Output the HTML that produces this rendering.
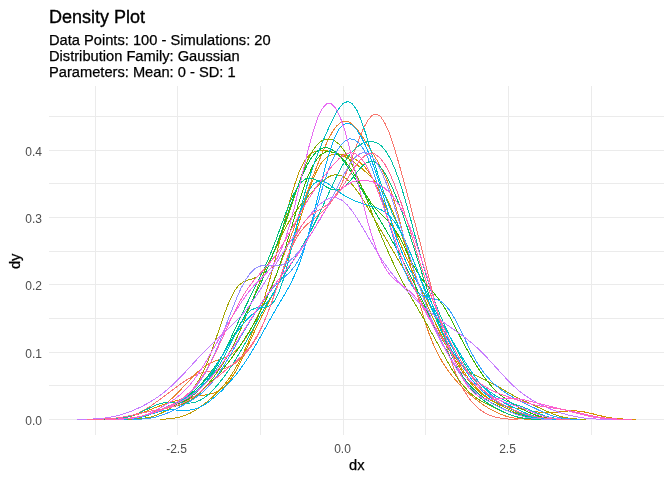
<!DOCTYPE html>
<html><head><meta charset="utf-8"><title>Density Plot</title>
<style>
html,body{margin:0;padding:0;background:#fff;}
body{width:672px;height:480px;overflow:hidden;position:relative;font-family:"Liberation Sans",Arial,sans-serif;}
svg{position:absolute;left:0;top:0;}
.t{position:absolute;white-space:nowrap;line-height:1;}
.title{left:49px;top:8px;font-size:18px;color:#000;-webkit-text-stroke:0.35px #000;}
.sub{left:49px;font-size:14.67px;color:#000;-webkit-text-stroke:0.25px #000;}
.ax{font-size:12px;color:#4d4d4d;}
.yl{text-align:right;width:42px;left:0;}
.xl{text-align:center;width:60px;}
.axt{font-size:14.67px;color:#000;-webkit-text-stroke:0.25px #000;}
</style></head><body>
<svg width="672" height="480" viewBox="0 0 672 480">
<g id="grid" fill="#ebebeb" shape-rendering="crispEdges">
<rect x="49" y="419" width="615" height="1"/>
<rect x="49" y="385" width="615" height="1"/>
<rect x="49" y="352" width="615" height="1"/>
<rect x="49" y="318" width="615" height="1"/>
<rect x="49" y="284" width="615" height="1"/>
<rect x="49" y="251" width="615" height="1"/>
<rect x="49" y="217" width="615" height="1"/>
<rect x="49" y="183" width="615" height="1"/>
<rect x="49" y="150" width="615" height="1"/>
<rect x="49" y="116" width="615" height="1"/>
<rect x="95" y="86" width="1" height="349"/>
<rect x="177" y="86" width="1" height="349"/>
<rect x="260" y="86" width="1" height="349"/>
<rect x="343" y="86" width="1" height="349"/>
<rect x="425" y="86" width="1" height="349"/>
<rect x="508" y="86" width="1" height="349"/>
<rect x="591" y="86" width="1" height="349"/>

</g>
<g id="curves" fill="none" stroke-width="1" shape-rendering="crispEdges">
<path stroke="#F8766D" d="M105.1,419.4 L109.3,419.3 L113.4,419.1 L117.6,418.8 L121.8,418.2 L126.0,417.5 L130.1,416.4 L134.3,415.0 L138.5,413.1 L142.6,411.0 L146.8,408.5 L151.0,405.8 L155.1,402.9 L159.3,399.9 L163.5,396.8 L167.7,393.7 L171.8,390.6 L176.0,387.4 L180.2,384.3 L184.3,381.4 L188.5,378.7 L192.7,376.3 L196.9,374.4 L201.0,373.0 L205.2,371.9 L209.4,371.2 L213.5,370.7 L217.7,370.1 L221.9,369.2 L226.0,368.0 L230.2,366.3 L234.4,363.9 L238.6,360.8 L242.7,356.9 L246.9,352.2 L251.1,346.5 L255.2,339.9 L259.4,332.1 L263.6,323.1 L267.8,312.9 L271.9,301.6 L276.1,289.6 L280.3,277.3 L284.4,265.4 L288.6,254.5 L292.8,245.0 L297.0,237.1 L301.1,230.9 L305.3,226.1 L309.5,222.3 L313.6,219.0 L317.8,215.8 L322.0,212.2 L326.1,208.1 L330.3,203.1 L334.5,197.1 L338.7,189.7 L342.8,181.1 L347.0,171.1 L351.2,160.2 L355.3,148.8 L359.5,137.7 L363.7,127.9 L367.9,120.2 L372.0,115.4 L376.2,114.1 L380.4,116.4 L384.5,122.4 L388.7,131.5 L392.9,143.3 L397.0,156.9 L401.2,171.6 L405.4,187.0 L409.6,202.6 L413.7,218.4 L417.9,234.2 L422.1,250.4 L426.2,266.9 L430.4,283.7 L434.6,300.6 L438.8,317.3 L442.9,333.2 L447.1,347.9 L451.3,361.1 L455.4,372.5 L459.6,382.1 L463.8,390.2 L468.0,396.7 L472.1,402.1 L476.3,406.5 L480.5,410.0 L484.6,412.7 L488.8,414.8 L493.0,416.4 L497.1,417.5 L501.3,418.3 L505.5,418.8 L509.7,419.1 L513.8,419.3 L518.0,419.4"/>
<path stroke="#EA8331" d="M117.0,419.4 L121.2,419.3 L125.4,419.1 L129.6,418.8 L133.9,418.3 L138.1,417.6 L142.3,416.6 L146.5,415.3 L150.8,413.5 L155.0,411.3 L159.2,408.7 L163.4,405.6 L167.6,402.2 L171.9,398.5 L176.1,394.4 L180.3,390.1 L184.5,385.6 L188.8,381.0 L193.0,376.6 L197.2,372.4 L201.4,368.7 L205.6,365.6 L209.9,363.2 L214.1,361.4 L218.3,359.9 L222.5,358.6 L226.8,356.9 L231.0,354.5 L235.2,351.2 L239.4,346.7 L243.6,341.2 L247.9,334.6 L252.1,327.1 L256.3,319.0 L260.5,310.4 L264.8,301.3 L269.0,291.9 L273.2,282.0 L277.4,271.7 L281.6,261.0 L285.9,250.0 L290.1,238.6 L294.3,227.1 L298.5,215.6 L302.8,204.0 L307.0,192.5 L311.2,181.2 L315.4,170.0 L319.7,159.3 L323.9,149.1 L328.1,139.9 L332.3,132.0 L336.5,126.1 L340.8,122.3 L345.0,120.9 L349.2,122.0 L353.4,125.2 L357.7,130.0 L361.9,135.9 L366.1,142.4 L370.3,149.2 L374.5,156.1 L378.8,163.4 L383.0,171.5 L387.2,181.0 L391.4,192.4 L395.7,205.8 L399.9,221.2 L404.1,238.3 L408.3,256.2 L412.5,274.3 L416.8,291.8 L421.0,307.9 L425.2,322.2 L429.4,334.6 L433.7,345.1 L437.9,354.0 L442.1,361.6 L446.3,368.1 L450.5,373.9 L454.8,379.1 L459.0,383.9 L463.2,388.2 L467.4,392.2 L471.7,395.9 L475.9,399.4 L480.1,402.5 L484.3,405.5 L488.6,408.2 L492.8,410.6 L497.0,412.7 L501.2,414.5 L505.4,416.0 L509.7,417.1 L513.9,418.0 L518.1,418.6 L522.3,418.9 L526.6,419.2 L530.8,419.3 L535.0,419.4"/>
<path stroke="#D89000" d="M99.7,419.4 L105.1,419.3 L110.6,419.1 L116.0,418.7 L121.4,418.1 L126.8,417.2 L132.2,415.9 L137.6,414.3 L143.1,412.4 L148.5,410.3 L153.9,408.2 L159.3,406.1 L164.7,404.2 L170.2,402.5 L175.6,400.9 L181.0,399.4 L186.4,398.1 L191.8,397.0 L197.2,396.1 L202.7,395.3 L208.1,394.5 L213.5,393.1 L218.9,390.7 L224.3,386.7 L229.7,380.6 L235.2,372.2 L240.6,361.9 L246.0,350.3 L251.4,338.2 L256.8,326.3 L262.2,315.2 L267.7,304.7 L273.1,294.2 L278.5,282.8 L283.9,269.7 L289.3,254.5 L294.7,237.2 L300.2,218.8 L305.6,200.8 L311.0,184.6 L316.4,171.5 L321.8,162.3 L327.2,156.8 L332.7,154.4 L338.1,154.1 L343.5,154.9 L348.9,156.4 L354.3,158.7 L359.7,162.1 L365.2,167.4 L370.6,174.9 L376.0,184.7 L381.4,196.6 L386.8,209.8 L392.2,223.5 L397.7,237.2 L403.1,250.1 L408.5,262.3 L413.9,273.7 L419.3,284.6 L424.7,295.4 L430.2,306.2 L435.6,317.2 L441.0,328.5 L446.4,339.7 L451.8,350.6 L457.2,360.7 L462.7,369.8 L468.1,377.8 L473.5,384.7 L478.9,390.4 L484.3,395.2 L489.7,399.1 L495.2,402.2 L500.6,404.5 L506.0,406.1 L511.4,407.3 L516.8,408.3 L522.2,409.2 L527.7,410.2 L533.1,411.2 L538.5,412.1 L543.9,412.6 L549.3,412.8 L554.7,412.4 L560.2,411.8 L565.6,411.2 L571.0,410.8 L576.4,410.9 L581.8,411.5 L587.2,412.5 L592.7,413.8 L598.1,415.2 L603.5,416.5 L608.9,417.5 L614.3,418.3 L619.7,418.8 L625.2,419.1 L630.6,419.3 L636.0,419.4"/>
<path stroke="#C09B00" d="M160.0,419.3 L164.0,419.2 L167.9,418.9 L171.9,418.5 L175.8,417.9 L179.8,417.1 L183.8,415.9 L187.7,414.3 L191.7,412.4 L195.6,410.1 L199.6,407.5 L203.6,404.6 L207.5,401.4 L211.5,398.0 L215.4,394.3 L219.4,390.3 L223.4,385.8 L227.3,380.8 L231.3,375.2 L235.2,368.7 L239.2,361.6 L243.2,353.6 L247.1,344.9 L251.1,335.5 L255.1,325.3 L259.0,314.3 L263.0,302.3 L266.9,289.4 L270.9,275.4 L274.9,260.3 L278.8,244.5 L282.8,228.4 L286.7,212.6 L290.7,197.7 L294.7,184.4 L298.6,173.2 L302.6,164.4 L306.5,158.1 L310.5,153.9 L314.5,151.6 L318.4,150.6 L322.4,150.4 L326.3,150.8 L330.3,151.5 L334.3,152.5 L338.2,153.7 L342.2,155.3 L346.1,157.3 L350.1,159.7 L354.1,162.5 L358.0,165.5 L362.0,168.7 L365.9,172.1 L369.9,175.8 L373.9,179.9 L377.8,184.7 L381.8,190.3 L385.7,197.0 L389.7,204.9 L393.7,213.9 L397.6,224.0 L401.6,234.8 L405.6,246.2 L409.5,257.7 L413.5,269.1 L417.4,280.2 L421.4,290.7 L425.4,300.7 L429.3,310.0 L433.3,318.7 L437.2,327.0 L441.2,334.8 L445.2,342.4 L449.1,349.6 L453.1,356.6 L457.0,363.3 L461.0,369.6 L465.0,375.4 L468.9,380.8 L472.9,385.6 L476.8,389.7 L480.8,393.4 L484.8,396.4 L488.7,399.1 L492.7,401.4 L496.6,403.5 L500.6,405.5 L504.6,407.4 L508.5,409.4 L512.5,411.2 L516.4,413.0 L520.4,414.6 L524.4,415.9 L528.3,417.0 L532.3,417.8 L536.2,418.4 L540.2,418.9 L544.2,419.1 L548.1,419.3 L552.1,419.4"/>
<path stroke="#A3A500" d="M127.5,419.4 L132.2,419.3 L136.8,419.0 L141.4,418.6 L146.1,417.9 L150.7,417.0 L155.3,415.6 L160.0,413.7 L164.6,411.5 L169.2,408.9 L173.9,406.0 L178.5,402.7 L183.1,399.1 L187.7,394.9 L192.4,389.7 L197.0,383.2 L201.6,375.1 L206.3,365.1 L210.9,353.3 L215.5,340.0 L220.2,326.2 L224.8,312.8 L229.4,301.0 L234.0,291.7 L238.7,285.4 L243.3,281.8 L247.9,280.1 L252.6,278.8 L257.2,276.8 L261.8,272.8 L266.5,266.5 L271.1,258.1 L275.7,248.4 L280.4,238.4 L285.0,228.9 L289.6,220.5 L294.2,213.4 L298.9,207.2 L303.5,201.6 L308.1,196.3 L312.8,191.1 L317.4,186.1 L322.0,181.6 L326.7,178.0 L331.3,175.6 L335.9,174.7 L340.6,175.4 L345.2,177.9 L349.8,181.8 L354.4,187.2 L359.1,193.6 L363.7,200.8 L368.3,208.6 L373.0,216.6 L377.6,224.6 L382.2,232.5 L386.9,240.4 L391.5,248.3 L396.1,256.1 L400.8,264.1 L405.4,272.2 L410.0,280.5 L414.6,289.1 L419.3,297.7 L423.9,306.4 L428.5,315.0 L433.2,323.5 L437.8,331.7 L442.4,339.5 L447.1,346.8 L451.7,353.5 L456.3,359.4 L461.0,364.4 L465.6,368.7 L470.2,372.1 L474.8,375.0 L479.5,377.4 L484.1,379.6 L488.7,381.7 L493.4,384.0 L498.0,386.6 L502.6,389.3 L507.3,392.0 L511.9,394.7 L516.5,397.2 L521.2,399.5 L525.8,401.7 L530.4,403.7 L535.0,405.8 L539.7,408.0 L544.3,410.1 L548.9,412.2 L553.6,414.1 L558.2,415.8 L562.8,417.1 L567.5,418.0 L572.1,418.6 L576.7,419.0 L581.3,419.3 L586.0,419.4"/>
<path stroke="#7CAE00" d="M114.5,419.4 L118.8,419.3 L123.1,419.1 L127.5,418.8 L131.8,418.3 L136.1,417.6 L140.4,416.6 L144.7,415.4 L149.0,414.0 L153.3,412.5 L157.7,410.9 L162.0,409.5 L166.3,408.3 L170.6,407.3 L174.9,406.3 L179.2,405.2 L183.6,403.7 L187.9,401.8 L192.2,399.2 L196.5,395.9 L200.8,392.0 L205.1,387.5 L209.4,382.4 L213.8,377.0 L218.1,371.0 L222.4,364.6 L226.7,357.5 L231.0,349.8 L235.3,341.1 L239.7,331.6 L244.0,321.4 L248.3,310.6 L252.6,299.7 L256.9,289.0 L261.2,278.8 L265.5,269.3 L269.9,260.2 L274.2,251.1 L278.5,241.4 L282.8,230.7 L287.1,218.9 L291.4,206.0 L295.8,192.7 L300.1,179.8 L304.4,168.0 L308.7,158.0 L313.0,150.1 L317.3,144.4 L321.6,140.8 L326.0,139.1 L330.3,139.0 L334.6,140.7 L338.9,144.0 L343.2,149.1 L347.5,155.9 L351.9,164.2 L356.2,173.7 L360.5,184.0 L364.8,194.8 L369.1,205.7 L373.4,216.7 L377.7,227.4 L382.1,237.9 L386.4,248.0 L390.7,257.6 L395.0,266.9 L399.3,275.6 L403.6,283.8 L408.0,291.7 L412.3,299.2 L416.6,306.5 L420.9,313.9 L425.2,321.3 L429.5,328.9 L433.8,336.7 L438.2,344.6 L442.5,352.6 L446.8,360.4 L451.1,367.9 L455.4,374.9 L459.7,381.1 L464.1,386.6 L468.4,391.3 L472.7,395.2 L477.0,398.4 L481.3,401.1 L485.6,403.5 L489.9,405.6 L494.3,407.7 L498.6,409.8 L502.9,411.8 L507.2,413.6 L511.5,415.2 L515.8,416.5 L520.2,417.5 L524.5,418.3 L528.8,418.8 L533.1,419.1 L537.4,419.3 L541.7,419.4"/>
<path stroke="#39B600" d="M118.1,419.4 L122.6,419.3 L127.1,419.1 L131.6,418.7 L136.2,418.1 L140.7,417.2 L145.2,416.1 L149.7,414.6 L154.2,412.9 L158.7,411.0 L163.3,409.2 L167.8,407.4 L172.3,405.8 L176.8,404.2 L181.3,402.6 L185.8,400.8 L190.4,398.6 L194.9,395.9 L199.4,392.7 L203.9,389.0 L208.4,384.8 L212.9,380.3 L217.5,375.4 L222.0,370.2 L226.5,364.7 L231.0,358.8 L235.5,352.6 L240.0,346.0 L244.5,339.0 L249.1,331.7 L253.6,324.0 L258.1,315.8 L262.6,306.9 L267.1,297.3 L271.6,286.8 L276.2,275.1 L280.7,262.3 L285.2,248.3 L289.7,233.5 L294.2,218.2 L298.7,203.1 L303.3,189.0 L307.8,176.7 L312.3,166.5 L316.8,159.1 L321.3,154.3 L325.8,151.9 L330.4,151.7 L334.9,153.1 L339.4,155.9 L343.9,160.1 L348.4,165.5 L352.9,172.1 L357.5,179.7 L362.0,187.8 L366.5,195.6 L371.0,202.7 L375.5,208.5 L380.0,213.2 L384.5,217.4 L389.1,221.9 L393.6,227.6 L398.1,234.7 L402.6,243.3 L407.1,252.7 L411.6,262.1 L416.2,270.5 L420.7,277.5 L425.2,283.4 L429.7,288.4 L434.2,293.4 L438.7,299.1 L443.3,305.7 L447.8,313.3 L452.3,321.6 L456.8,330.3 L461.3,339.0 L465.8,347.5 L470.4,355.5 L474.9,363.1 L479.4,370.1 L483.9,376.7 L488.4,382.6 L492.9,387.8 L497.5,392.3 L502.0,396.2 L506.5,399.5 L511.0,402.5 L515.5,405.2 L520.0,407.8 L524.5,410.2 L529.1,412.4 L533.6,414.3 L538.1,415.9 L542.6,417.2 L547.1,418.1 L551.6,418.7 L556.2,419.0 L560.7,419.3 L565.2,419.4"/>
<path stroke="#00BB4E" d="M104.4,419.4 L109.1,419.3 L113.7,419.2 L118.3,419.0 L122.9,418.8 L127.5,418.3 L132.1,417.8 L136.7,417.0 L141.3,416.1 L145.9,414.9 L150.5,413.5 L155.1,412.0 L159.7,410.3 L164.4,408.4 L169.0,406.4 L173.6,404.2 L178.2,401.9 L182.8,399.2 L187.4,396.1 L192.0,392.6 L196.6,388.5 L201.2,383.9 L205.8,378.6 L210.4,372.8 L215.1,366.3 L219.7,359.4 L224.3,352.0 L228.9,344.2 L233.5,336.2 L238.1,327.9 L242.7,319.4 L247.3,310.7 L251.9,301.7 L256.5,292.3 L261.1,282.5 L265.8,272.0 L270.4,260.9 L275.0,249.1 L279.6,236.7 L284.2,223.8 L288.8,210.7 L293.4,197.9 L298.0,185.7 L302.6,174.6 L307.2,165.0 L311.8,157.3 L316.4,151.8 L321.1,148.5 L325.7,147.4 L330.3,148.5 L334.9,151.5 L339.5,156.1 L344.1,161.8 L348.7,168.5 L353.3,175.8 L357.9,183.4 L362.5,191.1 L367.1,198.8 L371.8,206.4 L376.4,214.1 L381.0,221.7 L385.6,229.5 L390.2,237.4 L394.8,245.6 L399.4,254.1 L404.0,262.9 L408.6,272.0 L413.2,281.5 L417.8,291.2 L422.5,301.0 L427.1,310.9 L431.7,320.7 L436.3,330.4 L440.9,339.7 L445.5,348.6 L450.1,357.0 L454.7,364.8 L459.3,371.9 L463.9,378.2 L468.5,383.8 L473.1,388.8 L477.8,393.0 L482.4,396.7 L487.0,400.0 L491.6,402.8 L496.2,405.4 L500.8,407.7 L505.4,409.7 L510.0,411.6 L514.6,413.3 L519.2,414.7 L523.8,416.0 L528.5,417.0 L533.1,417.7 L537.7,418.3 L542.3,418.7 L546.9,419.0 L551.5,419.2 L556.1,419.3 L560.7,419.4"/>
<path stroke="#00BF7D" d="M118.3,419.4 L122.6,419.3 L126.9,419.1 L131.1,418.7 L135.4,418.2 L139.6,417.5 L143.9,416.4 L148.2,415.1 L152.4,413.5 L156.7,411.7 L161.0,409.9 L165.2,408.1 L169.5,406.3 L173.7,404.7 L178.0,403.0 L182.3,401.2 L186.5,399.2 L190.8,396.6 L195.1,393.5 L199.3,389.6 L203.6,385.0 L207.9,379.7 L212.1,373.5 L216.4,366.6 L220.6,358.9 L224.9,350.6 L229.2,341.7 L233.4,332.5 L237.7,323.2 L242.0,314.0 L246.2,305.1 L250.5,296.4 L254.7,287.9 L259.0,279.4 L263.3,270.5 L267.5,261.0 L271.8,250.7 L276.1,239.6 L280.3,228.0 L284.6,216.3 L288.8,205.1 L293.1,195.3 L297.4,187.4 L301.6,181.9 L305.9,178.8 L310.2,178.0 L314.4,179.2 L318.7,181.5 L322.9,184.5 L327.2,187.4 L331.5,189.4 L335.7,190.2 L340.0,189.4 L344.3,186.9 L348.5,182.8 L352.8,177.7 L357.0,172.1 L361.3,167.1 L365.6,163.3 L369.8,161.4 L374.1,161.8 L378.4,164.6 L382.6,169.7 L386.9,176.6 L391.2,185.2 L395.4,194.9 L399.7,205.8 L403.9,217.5 L408.2,230.0 L412.5,243.2 L416.7,256.7 L421.0,270.3 L425.3,283.8 L429.5,296.8 L433.8,309.3 L438.0,321.1 L442.3,332.4 L446.6,343.0 L450.8,353.0 L455.1,362.2 L459.4,370.6 L463.6,378.1 L467.9,384.5 L472.1,389.9 L476.4,394.4 L480.7,398.1 L484.9,401.3 L489.2,404.1 L493.5,406.6 L497.7,409.0 L502.0,411.2 L506.2,413.2 L510.5,414.9 L514.8,416.3 L519.0,417.4 L523.3,418.2 L527.6,418.7 L531.8,419.1 L536.1,419.3 L540.4,419.4"/>
<path stroke="#00C1A3" d="M104.8,419.4 L109.3,419.3 L113.8,419.0 L118.4,418.7 L122.9,418.0 L127.5,417.1 L132.0,415.8 L136.6,414.1 L141.1,412.1 L145.6,409.9 L150.2,407.7 L154.7,405.6 L159.3,403.9 L163.8,402.7 L168.4,402.0 L172.9,402.0 L177.4,402.3 L182.0,402.8 L186.5,403.1 L191.1,403.0 L195.6,402.1 L200.2,400.2 L204.7,397.4 L209.3,393.7 L213.8,389.2 L218.3,384.0 L222.9,378.3 L227.4,372.1 L232.0,365.4 L236.5,358.2 L241.1,350.5 L245.6,342.5 L250.1,334.3 L254.7,325.9 L259.2,317.5 L263.8,309.3 L268.3,301.3 L272.9,293.5 L277.4,286.0 L281.9,278.6 L286.5,271.4 L291.0,264.3 L295.6,257.1 L300.1,249.7 L304.7,242.0 L309.2,233.9 L313.7,225.2 L318.3,215.9 L322.8,206.1 L327.4,196.1 L331.9,186.1 L336.5,176.6 L341.0,167.9 L345.6,160.3 L350.1,154.1 L354.6,149.1 L359.2,145.4 L363.7,142.8 L368.3,141.5 L372.8,141.5 L377.4,143.0 L381.9,146.4 L386.4,152.0 L391.0,160.0 L395.5,170.4 L400.1,183.1 L404.6,197.7 L409.2,213.7 L413.7,230.5 L418.2,247.4 L422.8,263.8 L427.3,279.2 L431.9,293.2 L436.4,305.8 L441.0,317.1 L445.5,327.3 L450.0,336.7 L454.6,345.6 L459.1,354.2 L463.7,362.3 L468.2,369.9 L472.8,376.9 L477.3,383.2 L481.8,388.6 L486.4,393.1 L490.9,396.9 L495.5,400.1 L500.0,402.9 L504.6,405.5 L509.1,407.9 L513.7,410.3 L518.2,412.5 L522.7,414.4 L527.3,416.0 L531.8,417.2 L536.4,418.1 L540.9,418.7 L545.5,419.0 L550.0,419.3 L554.5,419.4"/>
<path stroke="#00BFC4" d="M118.3,419.4 L122.9,419.3 L127.5,419.0 L132.1,418.6 L136.7,418.0 L141.3,417.0 L145.9,415.7 L150.4,414.1 L155.0,412.2 L159.6,410.1 L164.2,408.0 L168.8,405.9 L173.4,403.8 L178.0,401.8 L182.5,399.6 L187.1,397.2 L191.7,394.3 L196.3,391.0 L200.9,387.1 L205.5,382.7 L210.0,377.6 L214.6,371.8 L219.2,365.0 L223.8,357.3 L228.4,348.5 L233.0,339.2 L237.6,329.8 L242.1,321.3 L246.7,314.5 L251.3,310.0 L255.9,307.9 L260.5,307.5 L265.1,307.4 L269.6,305.9 L274.2,301.3 L278.8,292.6 L283.4,279.4 L288.0,262.6 L292.6,243.5 L297.2,223.7 L301.7,204.8 L306.3,187.8 L310.9,172.8 L315.5,159.7 L320.1,147.9 L324.7,137.0 L329.2,126.7 L333.8,117.2 L338.4,109.2 L343.0,103.6 L347.6,101.5 L352.2,103.6 L356.8,110.1 L361.3,120.6 L365.9,134.2 L370.5,149.6 L375.1,165.3 L379.7,180.3 L384.3,193.7 L388.8,205.4 L393.4,215.8 L398.0,225.4 L402.6,235.1 L407.2,245.3 L411.8,256.2 L416.4,267.9 L420.9,280.2 L425.5,292.6 L430.1,304.7 L434.7,316.2 L439.3,326.9 L443.9,336.5 L448.4,345.1 L453.0,352.6 L457.6,359.3 L462.2,365.2 L466.8,370.5 L471.4,375.3 L476.0,379.8 L480.5,384.1 L485.1,388.0 L489.7,391.6 L494.3,394.8 L498.9,397.6 L503.5,399.9 L508.0,401.7 L512.6,403.4 L517.2,405.0 L521.8,406.6 L526.4,408.5 L531.0,410.4 L535.6,412.4 L540.1,414.2 L544.7,415.8 L549.3,417.1 L553.9,418.0 L558.5,418.6 L563.1,419.0 L567.7,419.3 L572.2,419.4"/>
<path stroke="#00BAE0" d="M115.9,419.4 L120.4,419.3 L124.9,419.1 L129.4,418.7 L133.9,418.2 L138.4,417.4 L142.9,416.2 L147.4,414.8 L151.9,413.2 L156.4,411.3 L160.9,409.5 L165.4,407.6 L169.9,405.8 L174.4,404.1 L178.9,402.2 L183.4,400.0 L187.9,397.3 L192.4,394.0 L196.9,390.1 L201.4,385.4 L205.9,380.0 L210.4,374.0 L214.9,367.4 L219.4,360.3 L223.9,353.0 L228.4,345.6 L232.9,338.4 L237.4,331.6 L241.9,325.4 L246.4,320.1 L250.9,315.6 L255.4,311.8 L259.9,308.4 L264.4,304.8 L268.9,300.3 L273.4,294.0 L277.9,285.4 L282.4,274.1 L286.9,260.3 L291.4,244.8 L295.9,228.6 L300.4,213.2 L304.9,200.0 L309.4,190.0 L313.9,183.6 L318.4,180.8 L322.9,181.0 L327.4,183.2 L331.9,186.4 L336.4,190.0 L340.9,193.3 L345.4,196.2 L349.9,198.6 L354.4,200.7 L358.9,202.4 L363.4,204.0 L367.9,205.3 L372.4,206.6 L376.9,208.0 L381.4,209.9 L385.9,212.7 L390.5,216.8 L395.0,222.4 L399.5,229.8 L404.0,238.7 L408.5,248.8 L413.0,259.7 L417.5,270.8 L422.0,281.8 L426.5,292.2 L431.0,301.9 L435.5,310.9 L440.0,319.3 L444.5,327.3 L449.0,335.0 L453.5,342.7 L458.0,350.2 L462.5,357.7 L467.0,364.9 L471.5,371.8 L476.0,378.2 L480.5,383.9 L485.0,388.9 L489.5,393.1 L494.0,396.7 L498.5,399.6 L503.0,402.2 L507.5,404.5 L512.0,406.7 L516.5,408.9 L521.0,411.0 L525.5,413.0 L530.0,414.7 L534.5,416.2 L539.0,417.3 L543.5,418.2 L548.0,418.7 L552.5,419.1 L557.0,419.3 L561.5,419.4"/>
<path stroke="#00B0F6" d="M115.5,419.4 L120.0,419.3 L124.5,419.1 L128.9,418.8 L133.4,418.3 L137.9,417.5 L142.3,416.6 L146.8,415.3 L151.3,414.0 L155.8,412.6 L160.2,411.4 L164.7,410.5 L169.2,410.0 L173.6,409.9 L178.1,410.1 L182.6,410.3 L187.0,410.3 L191.5,409.8 L196.0,408.7 L200.4,406.9 L204.9,404.5 L209.4,401.4 L213.8,397.8 L218.3,393.9 L222.8,389.6 L227.2,384.9 L231.7,379.9 L236.2,374.5 L240.6,368.6 L245.1,362.2 L249.6,355.3 L254.0,347.9 L258.5,340.2 L263.0,332.2 L267.4,324.1 L271.9,316.2 L276.4,308.4 L280.8,300.9 L285.3,293.3 L289.8,285.3 L294.2,276.1 L298.7,265.4 L303.2,252.5 L307.6,237.4 L312.1,220.4 L316.6,202.1 L321.0,183.5 L325.5,165.9 L330.0,150.5 L334.4,138.1 L338.9,129.4 L343.4,124.4 L347.8,123.2 L352.3,125.1 L356.8,129.8 L361.2,136.9 L365.7,145.9 L370.2,156.6 L374.6,168.9 L379.1,182.5 L383.6,196.9 L388.0,211.7 L392.5,226.0 L397.0,239.4 L401.5,251.3 L405.9,261.6 L410.4,270.5 L414.9,278.3 L419.3,285.6 L423.8,293.0 L428.3,300.7 L432.7,308.9 L437.2,317.7 L441.7,326.7 L446.1,335.8 L450.6,344.7 L455.1,353.2 L459.5,361.1 L464.0,368.4 L468.5,375.0 L472.9,381.0 L477.4,386.3 L481.9,390.9 L486.3,394.7 L490.8,398.0 L495.3,400.8 L499.7,403.2 L504.2,405.4 L508.7,407.5 L513.1,409.5 L517.6,411.5 L522.1,413.4 L526.5,415.0 L531.0,416.4 L535.5,417.5 L539.9,418.2 L544.4,418.8 L548.9,419.1 L553.3,419.3 L557.8,419.4"/>
<path stroke="#35A2FF" d="M132.3,419.4 L136.8,419.3 L141.3,419.1 L145.8,418.7 L150.4,418.1 L154.9,417.2 L159.4,416.0 L163.9,414.4 L168.5,412.6 L173.0,410.4 L177.5,408.1 L182.1,405.7 L186.6,403.3 L191.1,400.6 L195.6,397.8 L200.2,394.4 L204.7,390.5 L209.2,385.9 L213.7,380.4 L218.3,374.2 L222.8,367.4 L227.3,360.0 L231.9,352.2 L236.4,344.3 L240.9,336.5 L245.4,328.8 L250.0,321.3 L254.5,314.0 L259.0,306.9 L263.5,300.2 L268.1,294.0 L272.6,288.4 L277.1,283.6 L281.7,279.4 L286.2,275.5 L290.7,271.2 L295.2,265.6 L299.8,257.9 L304.3,247.5 L308.8,234.5 L313.3,219.6 L317.9,203.7 L322.4,188.2 L326.9,174.0 L331.5,162.0 L336.0,152.4 L340.5,145.4 L345.0,140.9 L349.6,138.9 L354.1,139.4 L358.6,142.7 L363.2,148.7 L367.7,157.4 L372.2,168.6 L376.7,181.8 L381.3,196.4 L385.8,211.9 L390.3,227.6 L394.8,242.8 L399.4,256.9 L403.9,269.3 L408.4,279.5 L413.0,287.3 L417.5,292.6 L422.0,295.8 L426.5,297.4 L431.1,298.2 L435.6,299.1 L440.1,300.9 L444.6,304.4 L449.2,309.7 L453.7,316.8 L458.2,325.4 L462.8,334.7 L467.3,344.2 L471.8,353.3 L476.3,361.4 L480.9,368.5 L485.4,374.6 L489.9,379.7 L494.4,384.1 L499.0,388.0 L503.5,391.4 L508.0,394.4 L512.6,397.1 L517.1,399.6 L521.6,401.8 L526.1,404.0 L530.7,406.2 L535.2,408.4 L539.7,410.6 L544.2,412.6 L548.8,414.5 L553.3,416.0 L557.8,417.2 L562.4,418.1 L566.9,418.7 L571.4,419.1 L575.9,419.3 L580.5,419.4"/>
<path stroke="#9590FF" d="M112.5,419.4 L117.0,419.3 L121.4,419.1 L125.8,418.9 L130.3,418.4 L134.7,417.8 L139.1,416.9 L143.6,415.8 L148.0,414.4 L152.4,412.9 L156.9,411.1 L161.3,409.2 L165.7,407.3 L170.2,405.4 L174.6,403.3 L179.1,401.0 L183.5,398.3 L187.9,395.0 L192.4,390.9 L196.8,385.8 L201.2,379.7 L205.7,372.3 L210.1,363.8 L214.5,354.1 L219.0,343.5 L223.4,332.1 L227.8,320.5 L232.3,308.9 L236.7,298.0 L241.1,288.2 L245.6,279.9 L250.0,273.5 L254.4,269.1 L258.9,266.4 L263.3,265.3 L267.7,265.3 L272.2,265.6 L276.6,265.8 L281.0,265.2 L285.5,263.6 L289.9,260.7 L294.4,256.5 L298.8,251.4 L303.2,245.5 L307.7,239.0 L312.1,232.3 L316.5,225.2 L321.0,217.8 L325.4,210.0 L329.8,201.8 L334.3,193.2 L338.7,184.4 L343.1,175.8 L347.6,167.9 L352.0,161.1 L356.4,156.0 L360.9,153.1 L365.3,152.5 L369.7,154.5 L374.2,159.0 L378.6,166.0 L383.0,175.1 L387.5,186.2 L391.9,198.8 L396.3,212.5 L400.8,226.9 L405.2,241.6 L409.7,256.2 L414.1,270.4 L418.5,284.0 L423.0,296.8 L427.4,308.7 L431.8,319.8 L436.3,330.1 L440.7,339.7 L445.1,348.7 L449.6,357.0 L454.0,364.7 L458.4,371.8 L462.9,378.1 L467.3,383.7 L471.7,388.6 L476.2,392.7 L480.6,396.3 L485.0,399.3 L489.5,401.9 L493.9,404.4 L498.3,406.6 L502.8,408.7 L507.2,410.8 L511.6,412.6 L516.1,414.3 L520.5,415.7 L524.9,416.9 L529.4,417.8 L533.8,418.4 L538.3,418.9 L542.7,419.1 L547.1,419.3 L551.6,419.4"/>
<path stroke="#C77CFF" d="M77.0,419.4 L82.4,419.3 L87.8,419.2 L93.2,419.0 L98.6,418.6 L104.0,418.1 L109.4,417.3 L114.8,416.3 L120.2,414.9 L125.6,413.3 L131.0,411.3 L136.4,409.0 L141.8,406.5 L147.2,403.6 L152.6,400.4 L158.0,396.8 L163.4,392.8 L168.8,388.3 L174.2,383.4 L179.6,378.0 L185.0,372.4 L190.4,366.5 L195.8,360.6 L201.2,354.8 L206.7,349.2 L212.1,343.8 L217.5,338.6 L222.9,333.6 L228.3,328.6 L233.7,323.5 L239.1,318.0 L244.5,311.9 L249.9,305.0 L255.3,297.3 L260.7,289.0 L266.1,280.2 L271.5,271.1 L276.9,262.2 L282.3,253.5 L287.7,245.3 L293.1,237.4 L298.5,229.9 L303.9,222.7 L309.3,215.8 L314.7,209.4 L320.1,204.0 L325.5,199.9 L330.9,197.7 L336.3,197.7 L341.7,200.1 L347.1,204.8 L352.5,211.4 L357.9,219.6 L363.3,228.6 L368.7,237.9 L374.1,247.1 L379.5,255.9 L384.9,264.0 L390.3,271.5 L395.7,278.3 L401.1,284.6 L406.5,290.4 L411.9,295.9 L417.3,301.0 L422.7,305.8 L428.1,310.4 L433.5,314.8 L438.9,318.9 L444.3,322.8 L449.7,326.7 L455.1,330.5 L460.5,334.3 L466.0,338.4 L471.4,342.7 L476.8,347.5 L482.2,352.7 L487.6,358.3 L493.0,364.1 L498.4,370.1 L503.8,376.0 L509.2,381.7 L514.6,386.9 L520.0,391.6 L525.4,395.7 L530.8,399.3 L536.2,402.4 L541.6,405.2 L547.0,407.6 L552.4,409.8 L557.8,411.8 L563.2,413.6 L568.6,415.1 L574.0,416.3 L579.4,417.3 L584.8,418.1 L590.2,418.6 L595.6,419.0 L601.0,419.2 L606.4,419.3 L611.8,419.4"/>
<path stroke="#E76BF3" d="M115.5,419.4 L120.1,419.3 L124.7,419.0 L129.3,418.6 L133.9,418.0 L138.5,417.1 L143.1,415.8 L147.7,414.1 L152.3,412.1 L156.9,409.7 L161.5,407.2 L166.1,404.5 L170.7,401.7 L175.3,398.6 L179.9,395.0 L184.4,390.9 L189.0,386.0 L193.6,380.3 L198.2,373.8 L202.8,366.7 L207.4,359.1 L212.0,351.1 L216.6,343.1 L221.2,335.1 L225.8,327.3 L230.4,319.6 L235.0,312.1 L239.6,304.9 L244.2,298.1 L248.8,291.9 L253.4,286.3 L258.0,281.4 L262.6,276.9 L267.1,272.3 L271.7,266.9 L276.3,259.9 L280.9,250.5 L285.5,238.4 L290.1,223.4 L294.7,206.0 L299.3,186.9 L303.9,167.3 L308.5,148.4 L313.1,131.6 L317.7,118.0 L322.3,108.5 L326.9,103.7 L331.5,103.8 L336.1,108.9 L340.7,118.6 L345.3,132.2 L349.8,148.9 L354.4,167.5 L359.0,186.8 L363.6,205.8 L368.2,223.4 L372.8,238.9 L377.4,252.0 L382.0,262.4 L386.6,270.3 L391.2,276.2 L395.8,280.6 L400.4,284.1 L405.0,287.4 L409.6,291.1 L414.2,295.7 L418.8,301.4 L423.4,308.4 L428.0,316.4 L432.5,325.2 L437.1,334.3 L441.7,343.1 L446.3,351.5 L450.9,358.9 L455.5,365.4 L460.1,371.0 L464.7,375.7 L469.3,379.9 L473.9,383.7 L478.5,387.2 L483.1,390.6 L487.7,393.7 L492.3,396.5 L496.9,398.9 L501.5,401.0 L506.1,402.7 L510.6,404.2 L515.2,405.6 L519.8,407.2 L524.4,408.9 L529.0,410.8 L533.6,412.7 L538.2,414.4 L542.8,415.9 L547.4,417.2 L552.0,418.0 L556.6,418.7 L561.2,419.0 L565.8,419.3 L570.4,419.4"/>
<path stroke="#FA62DB" d="M104.6,419.4 L109.9,419.3 L115.2,419.2 L120.4,418.9 L125.7,418.5 L131.0,418.0 L136.2,417.2 L141.5,416.1 L146.8,414.8 L152.0,413.3 L157.3,411.5 L162.6,409.6 L167.9,407.5 L173.1,405.3 L178.4,402.9 L183.7,400.2 L188.9,397.1 L194.2,393.4 L199.5,389.2 L204.7,384.3 L210.0,378.8 L215.3,372.6 L220.5,365.8 L225.8,358.4 L231.1,350.6 L236.4,342.4 L241.6,334.0 L246.9,325.5 L252.2,317.1 L257.4,308.8 L262.7,301.0 L268.0,293.5 L273.2,286.4 L278.5,279.6 L283.8,272.9 L289.1,266.2 L294.3,259.3 L299.6,251.9 L304.9,243.9 L310.1,235.5 L315.4,226.7 L320.7,217.8 L325.9,209.2 L331.2,201.4 L336.5,194.5 L341.7,188.9 L347.0,184.8 L352.3,182.0 L357.6,180.5 L362.8,180.1 L368.1,180.7 L373.4,182.1 L378.6,184.3 L383.9,187.6 L389.2,192.2 L394.4,198.3 L399.7,206.1 L405.0,215.9 L410.3,227.8 L415.5,241.5 L420.8,256.9 L426.1,273.5 L431.3,290.7 L436.6,308.2 L441.9,325.2 L447.1,341.2 L452.4,355.7 L457.7,368.3 L462.9,378.7 L468.2,386.8 L473.5,392.7 L478.8,396.5 L484.0,398.5 L489.3,399.2 L494.6,399.2 L499.8,398.7 L505.1,398.3 L510.4,398.2 L515.6,398.5 L520.9,399.2 L526.2,400.3 L531.5,401.5 L536.7,402.9 L542.0,404.2 L547.3,405.5 L552.5,406.8 L557.8,408.1 L563.1,409.5 L568.3,410.9 L573.6,412.4 L578.9,413.8 L584.2,415.1 L589.4,416.3 L594.7,417.3 L600.0,418.0 L605.2,418.6 L610.5,418.9 L615.8,419.2 L621.0,419.3 L626.3,419.4"/>
<path stroke="#FF62BC" d="M104.8,419.4 L110.1,419.3 L115.5,419.2 L120.8,418.9 L126.1,418.5 L131.4,417.9 L136.8,417.1 L142.1,416.0 L147.4,414.6 L152.8,413.0 L158.1,411.1 L163.4,408.9 L168.8,406.4 L174.1,403.7 L179.4,400.4 L184.7,396.6 L190.1,391.9 L195.4,386.1 L200.7,379.1 L206.1,370.7 L211.4,361.1 L216.7,350.3 L222.1,338.8 L227.4,327.0 L232.7,315.5 L238.0,304.8 L243.4,295.3 L248.7,287.2 L254.0,280.3 L259.4,274.3 L264.7,268.5 L270.0,262.5 L275.4,255.6 L280.7,247.8 L286.0,238.9 L291.4,229.4 L296.7,219.6 L302.0,210.1 L307.3,201.0 L312.7,192.5 L318.0,184.6 L323.3,177.2 L328.7,170.2 L334.0,163.8 L339.3,158.4 L344.7,154.4 L350.0,152.6 L355.3,153.6 L360.6,157.7 L366.0,165.0 L371.3,175.3 L376.6,187.9 L382.0,202.2 L387.3,217.3 L392.6,232.7 L398.0,247.7 L403.3,261.9 L408.6,275.2 L414.0,287.4 L419.3,298.6 L424.6,308.9 L429.9,318.4 L435.3,327.4 L440.6,335.8 L445.9,343.9 L451.3,351.6 L456.6,358.8 L461.9,365.6 L467.3,371.7 L472.6,377.1 L477.9,381.7 L483.2,385.5 L488.6,388.7 L493.9,391.3 L499.2,393.6 L504.6,395.6 L509.9,397.5 L515.2,399.3 L520.6,401.0 L525.9,402.6 L531.2,404.1 L536.6,405.3 L541.9,406.3 L547.2,407.1 L552.5,407.9 L557.9,408.6 L563.2,409.5 L568.5,410.5 L573.9,411.7 L579.2,412.9 L584.5,414.2 L589.9,415.4 L595.2,416.5 L600.5,417.4 L605.8,418.1 L611.2,418.6 L616.5,419.0 L621.8,419.2 L627.2,419.3 L632.5,419.4"/>
<path stroke="#FF6A98" d="M87.0,419.4 L91.9,419.4 L96.8,419.3 L101.6,419.1 L106.5,418.9 L111.4,418.5 L116.3,418.0 L121.1,417.3 L126.0,416.5 L130.9,415.5 L135.8,414.4 L140.7,413.3 L145.5,412.3 L150.4,411.2 L155.3,410.3 L160.2,409.4 L165.1,408.5 L169.9,407.5 L174.8,406.2 L179.7,404.5 L184.6,402.4 L189.4,399.6 L194.3,396.4 L199.2,392.8 L204.1,388.8 L209.0,384.5 L213.8,380.2 L218.7,375.9 L223.6,371.8 L228.5,367.7 L233.4,363.6 L238.2,359.4 L243.1,354.8 L248.0,349.4 L252.9,342.8 L257.7,334.8 L262.6,325.1 L267.5,313.7 L272.4,300.7 L277.3,286.6 L282.1,272.2 L287.0,258.1 L291.9,245.3 L296.8,234.4 L301.7,225.7 L306.5,219.3 L311.4,214.8 L316.3,211.5 L321.2,208.7 L326.0,205.6 L330.9,201.6 L335.8,196.2 L340.7,189.5 L345.6,181.9 L350.4,173.9 L355.3,166.3 L360.2,159.9 L365.1,155.4 L370.0,153.3 L374.8,154.0 L379.7,157.5 L384.6,163.8 L389.5,172.8 L394.3,184.0 L399.2,197.2 L404.1,211.7 L409.0,227.1 L413.9,242.9 L418.7,258.7 L423.6,274.0 L428.5,288.5 L433.4,302.1 L438.3,314.6 L443.1,326.2 L448.0,336.8 L452.9,346.5 L457.8,355.5 L462.6,363.6 L467.5,371.1 L472.4,377.8 L477.3,383.7 L482.2,389.0 L487.0,393.5 L491.9,397.5 L496.8,400.9 L501.7,403.9 L506.6,406.5 L511.4,408.8 L516.3,410.9 L521.2,412.7 L526.1,414.3 L530.9,415.7 L535.8,416.8 L540.7,417.6 L545.6,418.2 L550.5,418.7 L555.3,419.0 L560.2,419.2 L565.1,419.3 L570.0,419.4"/>
</g>
</svg>
<div class="t title">Density Plot</div>
<div class="t sub" style="top:33px">Data Points: 100 - Simulations: 20</div>
<div class="t sub" style="top:49px">Distribution Family: Gaussian</div>
<div class="t sub" style="top:65px">Parameters: Mean: 0 - SD: 1</div>
<div class="t ax yl" style="top:146px">0.4</div>
<div class="t ax yl" style="top:213px">0.3</div>
<div class="t ax yl" style="top:280px">0.2</div>
<div class="t ax yl" style="top:348px">0.1</div>
<div class="t ax yl" style="top:415px">0.0</div>
<div class="t ax xl" style="left:146.5px;top:443px">-2.5</div>
<div class="t ax xl" style="left:312.5px;top:443px">0.0</div>
<div class="t ax xl" style="left:477.5px;top:443px">2.5</div>
<div class="t axt" style="left:349px;top:458.4px">dx</div>
<div class="t axt" style="left:8.2px;top:253.5px;transform:rotate(-90deg);transform-origin:center;">dy</div>
</body></html>
